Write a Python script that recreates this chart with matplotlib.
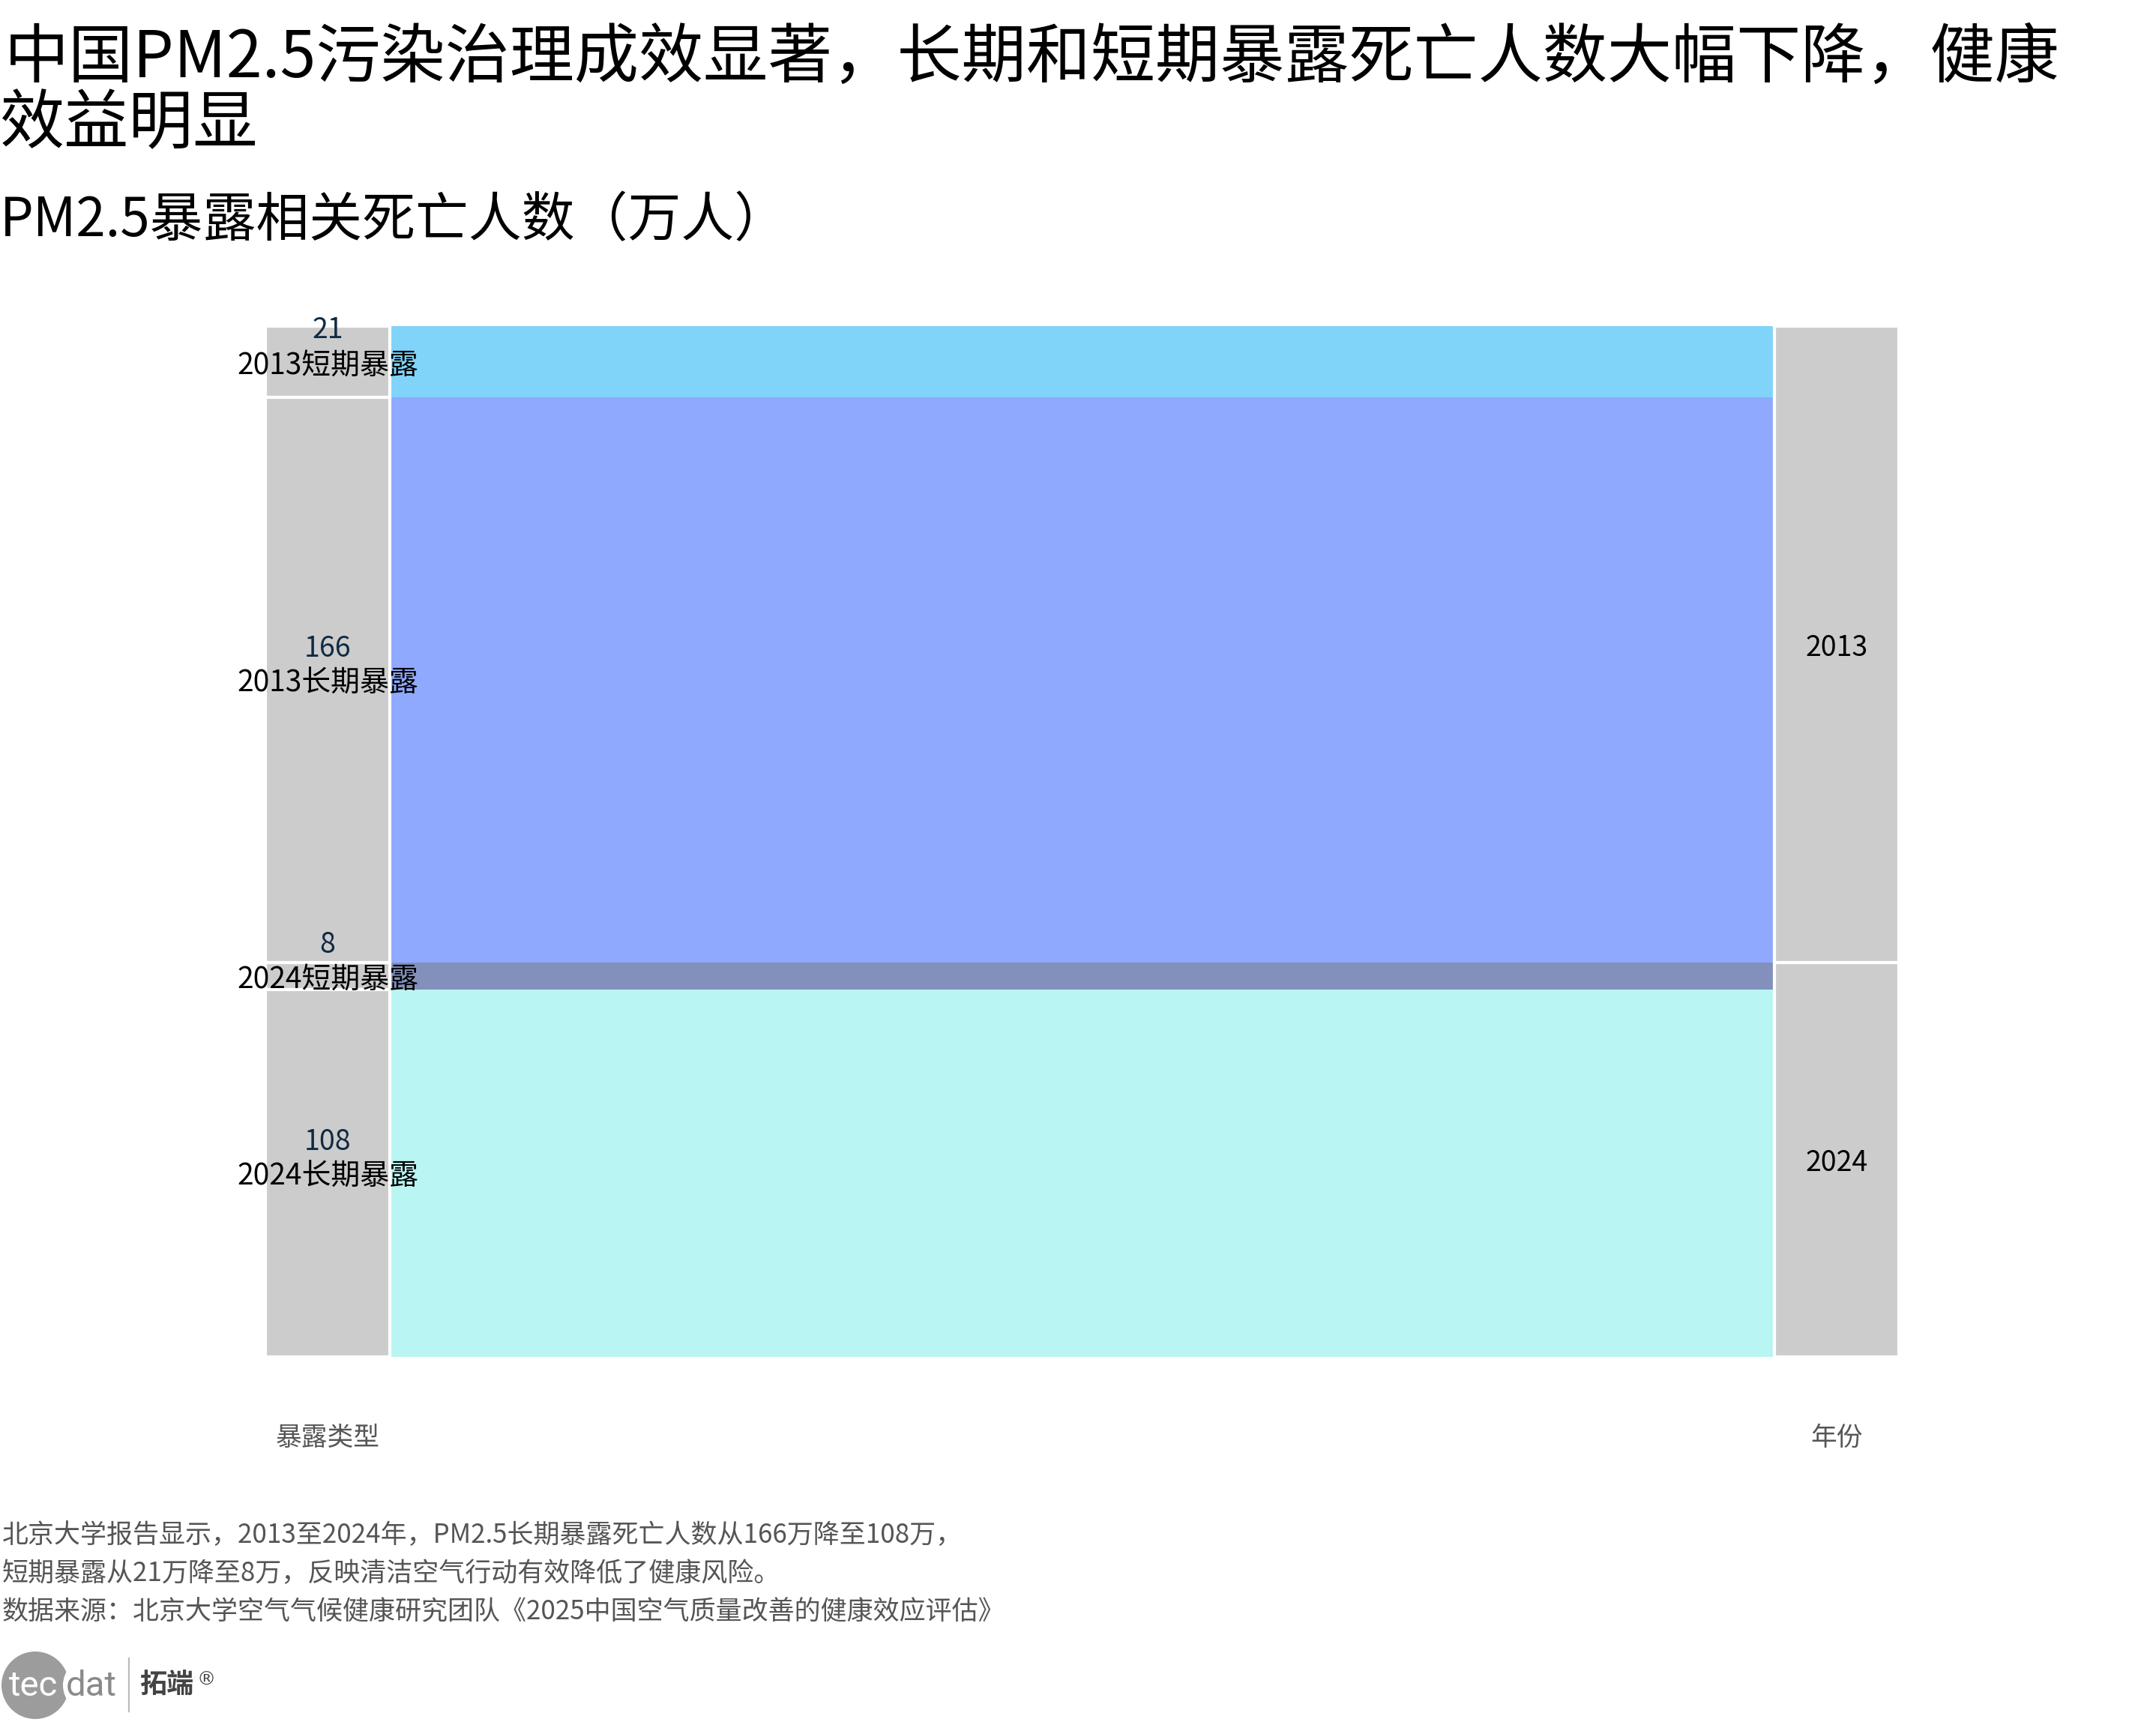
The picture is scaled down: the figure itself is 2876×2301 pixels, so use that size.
import numpy as np
import matplotlib
matplotlib.use("Agg")
import matplotlib.pyplot as plt
from matplotlib.patches import Circle
from matplotlib.transforms import blended_transform_factory

plt.rcParams['font.family'] = ['Noto Sans CJK SC', 'DejaVu Sans']

# 数据（万人）
exposure_labels = ["2013短期暴露", "2013长期暴露", "2024短期暴露", "2024长期暴露"]
exposure_values = [21, 166, 8, 108]
year_labels = ["2013", "2024"]
year_values = [21 + 166, 8 + 108]
ribbon_colors = ["#80D4F9", "#8FA9FE", "#8290BB", "#B9F5F2"]

title1 = "中国PM2.5污染治理成效显著，长期和短期暴露死亡人数大幅下降，健康"
title2 = "效益明显"
subtitle = "PM2.5暴露相关死亡人数（万人）"
notes = ["北京大学报告显示，2013至2024年，PM2.5长期暴露死亡人数从166万降至108万，",
         "短期暴露从21万降至8万，反映清洁空气行动有效降低了健康风险。",
         "数据来源：北京大学空气气候健康研究团队《2025中国空气质量改善的健康效应评估》"]

W, H = 2876, 2301
fig = plt.figure(figsize=(W / 200, H / 200), dpi=200)

# 主图区域（像素）
x0, x1, y0, y1 = 354, 2533, 435, 1810
ax = fig.add_axes([x0 / W, 1 - y1 / H, (x1 - x0) / W, (y1 - y0) / H])

unit = 166.0
bar_w = 1.0
rib_l = 168 / unit
rib_r = 2011 / unit
right_l = 2013 / unit
xmax = (x1 - x0) / unit

total = sum(exposure_values)
ex_bottom = np.concatenate([[0], np.cumsum(exposure_values)[:-1]])
yr_bottom = np.concatenate([[0], np.cumsum(year_values)[:-1]])

# 流带
ax.bar((rib_l + rib_r) / 2, exposure_values, bottom=ex_bottom, width=rib_r - rib_l,
       color=ribbon_colors, linewidth=0)
# 左侧维度
ax.bar(bar_w / 2, exposure_values, bottom=ex_bottom, width=bar_w,
       color="#CCCCCC", edgecolor="white", linewidth=1.5)
# 右侧维度
ax.bar((right_l + xmax) / 2, year_values, bottom=yr_bottom, width=xmax - right_l,
       color="#CCCCCC", edgecolor="white", linewidth=1.5)

for lab, v, b in zip(exposure_labels, exposure_values, ex_bottom):
    c = b + v / 2
    ax.annotate(lab, (bar_w / 2, c), xytext=(0, -1.8), textcoords="offset points",
                ha="center", va="center", fontsize=14, color="black")
    ax.annotate(str(v), (bar_w / 2, c), xytext=(0, 15), textcoords="offset points",
                ha="center", va="center", fontsize=13.5, color="#102A43")

for lab, v, b in zip(year_labels, year_values, yr_bottom):
    ax.annotate(lab, ((right_l + xmax) / 2, b + v / 2), xytext=(0, -1.8),
                textcoords="offset points", ha="center", va="center",
                fontsize=13.5, color="black")

ax.set_xlim(0, xmax)
ax.set_ylim(total, 0)
ax.axis("off")

tr = blended_transform_factory(ax.transData, ax.transAxes)
ax.text(bar_w / 2, -0.079, "暴露类型", transform=tr, ha="center", va="center",
        fontsize=12.5, color="#555555")
ax.text((right_l + xmax) / 2, -0.079, "年份", transform=tr, ha="center", va="center",
        fontsize=12.5, color="#555555")

# 标题
fig.text(0.002, 1 - 79 / H, title1, ha="left", va="center", fontsize=31, color="black")
fig.text(0.0, 1 - 167 / H, title2, ha="left", va="center", fontsize=31, color="black")
fig.text(0.0, 1 - 295 / H, subtitle, ha="left", va="center", fontsize=25.5, color="black")

for i, t in enumerate(notes):
    fig.text(0.001, 1 - (2048 + 51 * i) / H, t, ha="left", va="center",
             fontsize=12.6, color="#555555")

# logo
lax = fig.add_axes([0, 0, 330 / W, 121 / H])
lax.set_xlim(0, 330)
lax.set_ylim(2301, 2180)
lax.axis("off")
lax.add_patch(Circle((47, 2248), 45, color="#9C9C9C", lw=0))
lax.add_patch(Circle((121, 2248), 37, color="white", lw=0))
logo_font = ["Liberation Sans Narrow", "Roboto", "DejaVu Sans"]
lax.text(12, 2249, "tec", ha="left", va="center", fontsize=17, color="white", family=logo_font)
lax.text(88, 2249, "dat", ha="left", va="center", fontsize=17, color="#8A8A8A", family=logo_font)
lax.plot([172, 172], [2212, 2283], color="#BBBBBB", lw=0.8)
lax.text(186, 2248, "拓端", ha="left", va="center", fontsize=13, color="#444444", weight="bold")
lax.text(262, 2241, "®", ha="left", va="center", fontsize=9, color="#444444", family="DejaVu Sans")

fig.savefig("out.png", dpi=200, facecolor="white")
